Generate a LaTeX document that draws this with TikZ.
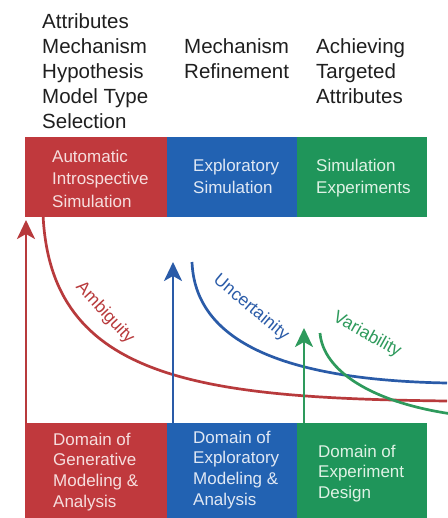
\documentclass[tikz,border=0pt]{standalone}
\usepackage{fontspec}
\setmainfont{Liberation Sans}
\usetikzlibrary{arrows.meta}

\definecolor{boxred}{HTML}{C0393D}
\definecolor{boxblue}{HTML}{2262B2}
\definecolor{boxgreen}{HTML}{1F955A}
\definecolor{linered}{HTML}{B83A3C}
\definecolor{lineblue}{HTML}{2A5BA8}
\definecolor{linegreen}{HTML}{2E9A5C}
\definecolor{txtred}{HTML}{F6DEDE}
\definecolor{txtblue}{HTML}{E0E8F4}
\definecolor{txtgreen}{HTML}{DFF2E5}

\begin{document}
\begin{tikzpicture}[x=1pt,y=-1pt,
  head/.style={anchor=north west, inner sep=0pt, align=left,
    font=\fontsize{20.5}{25}\selectfont, text=black!88},
  panel/.style={anchor=north west, inner sep=0pt, draw=none, fill=#1},
  toptext/.style={anchor=north west, inner sep=0pt, align=left,
    font=\fontsize{17}{22.5}\selectfont, text=#1},
  bottext/.style={anchor=north west, inner sep=0pt, align=left,
    font=\fontsize{17}{20.8}\selectfont, text=#1},
  curve/.style={line width=2.7pt, draw=#1},
  rise/.style={line width=2.7pt, draw=#1,
    -{Stealth[length=19pt, width=18pt, inset=5pt]}},
  curvelabel/.style={inner sep=0pt, font=\fontsize{17.5}{20}\selectfont, text=#1}
]
\useasboundingbox[fill=white] (0,0) rectangle (447,518);

% column headings
\node[head] (h1) at (42,13) {Attributes\\Mechanism\\Hypothesis\\Model Type\\Selection};
\node[head] (h2) at (184,38) {Mechanism\\Refinement};
\node[head] (h3) at (316,38) {Achieving\\Targeted\\Attributes};

% decreasing curves
\coordinate (a0) at (43,214);
\coordinate (a1) at (447,401);
\coordinate (u0) at (192,262);
\coordinate (u1) at (447,383);
\coordinate (v0) at (320,333);
\coordinate (v1) at (452,414);
\draw[curve=linered] (a0) .. controls (50,380) and (200,398) .. (a1);
\draw[curve=lineblue] (u0) .. controls (195,340) and (280,380) .. (u1);
\draw[curve=linegreen] (v0) .. controls (323,370) and (370,402) .. (v1);

\node[curvelabel=linered, rotate=-47] (amb) at (105,313) {Ambiguity};
\node[curvelabel=lineblue, rotate=-40] (unc) at (251,308) {Uncertainity};
\node[curvelabel=linegreen, rotate=-29] (var) at (367,335) {Variability};

% stage panels
\node[panel=boxred, minimum width=142pt, minimum height=80pt] (s1) at (25,137) {};
\node[panel=boxblue, minimum width=130pt, minimum height=80pt] (s2) at (167,137) {};
\node[panel=boxgreen, minimum width=130pt, minimum height=80pt] (s3) at (297,137) {};
\node[toptext=txtred] (s1t) at (52,149.6) {Automatic\\Introspective\\Simulation};
\node[toptext=txtblue] (s2t) at (193,158.6) {Exploratory\\Simulation};
\node[toptext=txtgreen] (s3t) at (316,158.6) {Simulation\\Experiments};

% domain panels
\node[panel=boxred, minimum width=142pt, minimum height=96pt] (d1) at (25,423) {};
\node[panel=boxblue, minimum width=130pt, minimum height=96pt] (d2) at (167,423) {};
\node[panel=boxgreen, minimum width=130pt, minimum height=96pt] (d3) at (297,423) {};
\node[bottext=txtred] (d1t) at (53,432.6) {Domain of\\Generative\\Modeling \&\\Analysis};
\node[bottext=txtblue] (d2t) at (193,430.6) {Domain of\\Exploratory\\Modeling \&\\Analysis};
\node[bottext=txtgreen] (d3t) at (318,444.6) {Domain of\\Experiment\\Design};

% rising arrows from each domain
\coordinate (r1) at (26,220);
\coordinate (r2) at (173,262);
\coordinate (r3) at (304,328);
\draw[rise=linered] (d1.north west -| r1) -- (r1);
\draw[rise=lineblue] (d2.north west -| r2) -- (r2);
\draw[rise=linegreen] (d3.north west -| r3) -- (r3);
\end{tikzpicture}
\end{document}
